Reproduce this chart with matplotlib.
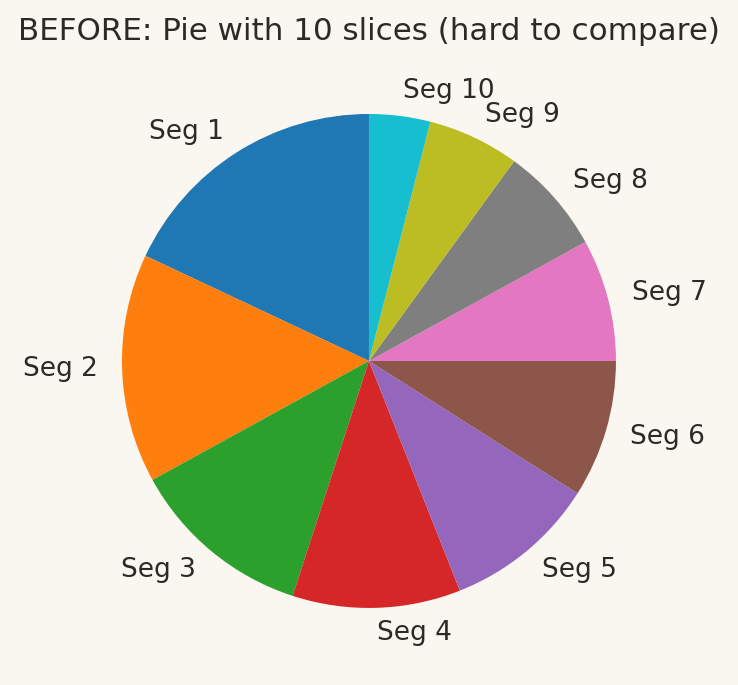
import matplotlib
matplotlib.use("Agg")
import matplotlib.pyplot as plt

labels = ["Seg 1", "Seg 2", "Seg 3", "Seg 4", "Seg 5", "Seg 6", "Seg 7", "Seg 8", "Seg 9", "Seg 10"]
values = [18, 15, 12, 11, 10, 9, 8, 7, 6, 4]
colors = ["#1f77b4", "#ff7f0e", "#2ca02c", "#d62728", "#9467bd",
          "#8c564b", "#e377c2", "#7f7f7f", "#bcbd22", "#17becf"]
title = "BEFORE: Pie with 10 slices (hard to compare)"

bg = "#faf6f0"
txt = "#2b2a28"

fig = plt.figure(figsize=(7.38, 6.85), dpi=100, facecolor=bg)
ax = fig.add_axes([0.0816, 0.0223, 0.8367, 0.9015])
ax.set_facecolor(bg)
ax.pie(values, labels=labels, colors=colors, startangle=90, counterclock=True,
       labeldistance=1.1, textprops=dict(fontsize=19, color=txt))
ax.set_xlim(-1.25, 1.25)
ax.set_ylim(-1.25, 1.25)
ax.set_aspect("equal")
fig.text(0.5, 1 - 31 / 685, title, ha="center", va="center", fontsize=22.3, color=txt)
fig.savefig("out.png", dpi=100, facecolor=bg)
